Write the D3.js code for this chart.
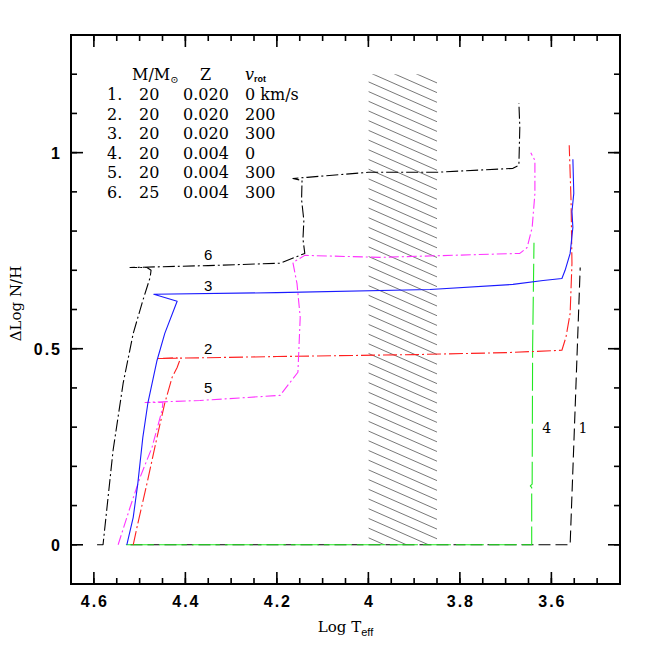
<!DOCTYPE html>
<html>
<head>
<meta charset="utf-8">
<script src="https://cdn.jsdelivr.net/npm/d3@7"></script>
<style>
  body { margin: 0; background: #fff; }
  text { fill: #000; }
</style>
</head>
<body>
<div id="container"></div>
<script>
// evolutionary tracks, [Log Teff, dLog N/H]
var track1 = [[4.52,0],[3.559,0],[3.548,0.35],[3.537,0.707]];
var track2 = [[4.514,0],[4.504,0.054],[4.484,0.156],[4.462,0.274],[4.445,0.361],[4.429,0.427],
              [4.418,0.452],[4.413,0.468],[4.418,0.477],[4.462,0.475],[4.2,0.48],[3.9,0.485],
              [3.7,0.49],[3.577,0.496],[3.568,0.53],[3.559,0.59],[3.555,0.718],[3.557,0.878],[3.561,1.019]];
var track3 = [[4.528,0],[4.514,0.07],[4.504,0.156],[4.493,0.274],[4.482,0.361],[4.462,0.47],
              [4.445,0.539],[4.418,0.621],[4.469,0.639],[4.2,0.643],[3.865,0.651],[3.684,0.664],
              [3.618,0.674],[3.577,0.679],[3.570,0.7],[3.559,0.743],[3.553,0.809],[3.555,0.85],
              [3.551,0.896],[3.553,0.983]];
var track4 = [[4.53,0],[3.643,0],[3.643,0.146],[3.646,0.15],[3.642,0.155],[3.641,0.5],[3.638,0.77]];
var track5 = [[4.547,0],[4.521,0.095],[4.499,0.172],[4.473,0.248],[4.451,0.343],[4.449,0.363],
              [4.488,0.363],[4.368,0.368],[4.193,0.381],[4.154,0.44],[4.149,0.58],[4.156,0.666],
              [4.165,0.72],[4.139,0.738],[3.975,0.733],[3.669,0.743],[3.653,0.758],[3.642,0.809],
              [3.636,0.896],[3.636,0.98],[3.645,1.0]];
var track6 = [[4.593,0],[4.58,0],[4.558,0.241],[4.536,0.412],[4.514,0.539],[4.493,0.623],
              [4.477,0.682],[4.475,0.7],[4.484,0.707],[4.521,0.707],[4.35,0.712],[4.193,0.718],
              [4.139,0.743],[4.143,0.78],[4.141,0.827],[4.146,0.88],[4.145,0.929],[4.165,0.934],
              [4.134,0.937],[4.0,0.95],[3.85,0.95],[3.684,0.96],[3.671,0.968],[3.669,1.065],
              [3.671,1.126]];

var trackNames = ["1","2","3","4","5","6"];
var trackColors = ["#000000","#ff2020","#1a1aff","#22e822","#ff33ff","#000000"];
var trackDashes = ["12,5","14,3,2,3","none","28,5","10,3,2,3","12,3,2,3"];
// label anchor for each track [Log Teff, dLog N/H]
var trackLabels = [[3.531,0.297],[4.35,0.498],[4.35,0.661],[3.61,0.297],[4.35,0.401],[4.35,0.738]];

// legend
var legendHead = ["M/M", "Z", "v"];
var legendRows = [
  ["1.","20","0.020","0 km/s"],
  ["2.","20","0.020","200"],
  ["3.","20","0.020","300"],
  ["4.","20","0.004","0"],
  ["5.","20","0.004","300"],
  ["6.","25","0.004","300"]
];

// hatched band
var bandX = [4.0, 3.85];
var bandY = [0, 1.2];

var xMajor = [4.6, 4.4, 4.2, 4.0, 3.8, 3.6];
var xTickLabels = ["4.6","4.4","4.2","4","3.8","3.6"];
var yMajor = [0, 0.5, 1];
var yTickLabels = ["0","0.5","1"];

var margin = {top: 35, right: 34, bottom: 70, left: 71},
    width = 654 - margin.left - margin.right,
    height = 654 - margin.top - margin.bottom;

function drawChart() {

    var svg = d3.select("#container")
    .append("svg")
      .attr("width", width + margin.left + margin.right)
      .attr("height", height + margin.top + margin.bottom)
    .append("g")
      .attr("transform", "translate(" + margin.left + "," + margin.top + ")");

    var x = d3.scaleLinear()
        .domain([4.65, 3.45])
        .range([0, width]);

    var y = d3.scaleLinear()
        .domain([-0.1, 1.3])
        .range([height, 0]);

    var xMinor = x.ticks(24);
    var yMinor = y.ticks(14);

    // hatching
    svg.append("clipPath").attr("id", "band")
      .append("rect")
        .attr("x", x(bandX[0]))
        .attr("y", y(bandY[1]))
        .attr("width", x(bandX[1]) - x(bandX[0]))
        .attr("height", y(bandY[0]) - y(bandY[1]));

    var bx0 = x(bandX[0]), bx1 = x(bandX[1]),
        by0 = y(bandY[1]), by1 = y(bandY[0]);
    var slope = 0.44, step = 9.7;
    var hatch = [];
    for (var c = by0 - (bx1 - bx0) * slope - 1; c < by1; c += step) hatch.push(c);

    svg.append("g")
        .attr("clip-path", "url(#band)")
      .selectAll("line")
        .data(hatch)
        .enter()
        .append("line")
        .attr("x1", bx0).attr("y1", function(d) { return d; })
        .attr("x2", bx1).attr("y2", function(d) { return d + (bx1 - bx0) * slope; })
        .attr("stroke", "#555")
        .attr("stroke-width", 0.8);

    // tracks
    var line = d3.line()
        .x(function(d) { return x(d[0]); })
        .y(function(d) { return y(d[1]); });

    var tracks = [track1, track2, track3, track4, track5, track6];
    var order = [0, 3, 1, 4, 2, 5];

    svg.selectAll(".track")
        .data(order)
        .enter()
        .append("path")
        .attr("class", "track")
        .attr("d", function(i) { return line(tracks[i]); })
        .attr("fill", "none")
        .attr("stroke", function(i) { return trackColors[i]; })
        .attr("stroke-width", 1.1)
        .attr("stroke-dasharray", function(i) { return trackDashes[i]; })
        .attr("stroke-linejoin", "round");

    svg.selectAll(".tlabel")
        .data(trackLabels)
        .enter()
        .append("text")
        .attr("class", "tlabel")
        .attr("x", function(d) { return x(d[0]); })
        .attr("y", function(d) { return y(d[1]) + 5; })
        .attr("text-anchor", "middle")
        .style("font-family", function(d, i) { return (i == 0 || i == 3) ? "DejaVu Serif" : "Liberation Sans"; })
        .style("font-size", function(d, i) { return (i == 0 || i == 3) ? "14px" : "15px"; })
        .text(function(d, i) { return trackNames[i]; });

    // frame and ticks
    svg.append("rect")
        .attr("width", width).attr("height", height)
        .attr("fill", "none").attr("stroke", "#000").attr("stroke-width", 2);

    function tickLines(cls, vals, len, horiz, pos, dir) {
        svg.selectAll("." + cls)
            .data(vals)
            .enter()
            .append("line")
            .attr("class", cls)
            .attr("x1", function(d) { return horiz ? x(d) : pos; })
            .attr("x2", function(d) { return horiz ? x(d) : pos + dir * len; })
            .attr("y1", function(d) { return horiz ? pos : y(d); })
            .attr("y2", function(d) { return horiz ? pos + dir * len : y(d); })
            .attr("stroke", "#000")
            .attr("stroke-width", 1.6);
    }
    var xMin = xMinor.filter(function(v) { return v > 3.451 && v < 4.649; });
    var yMin = yMinor.filter(function(v) { return v > -0.099 && v < 1.299; });
    tickLines("xb", xMin, 6, true, height, -1);
    tickLines("xt", xMin, 6, true, 0, 1);
    tickLines("xbM", xMajor, 12, true, height, -1);
    tickLines("xtM", xMajor, 12, true, 0, 1);
    tickLines("yl", yMin, 6, false, 0, 1);
    tickLines("yr", yMin, 6, false, width, -1);
    tickLines("ylM", yMajor, 12, false, 0, 1);
    tickLines("yrM", yMajor, 12, false, width, -1);

    svg.selectAll(".xlab")
        .data(xMajor)
        .enter()
        .append("text")
        .attr("class", "xlab")
        .attr("x", function(d) { return x(d) + 1; })
        .attr("y", height + 23)
        .attr("text-anchor", "middle")
        .style("font-family", "Liberation Sans")
        .style("font-size", "16px")
        .style("font-weight", "bold")
        .style("letter-spacing", "2px")
        .text(function(d, i) { return xTickLabels[i]; });

    svg.selectAll(".ylab")
        .data(yMajor)
        .enter()
        .append("text")
        .attr("class", "ylab")
        .attr("x", -9)
        .attr("y", function(d) { return y(d) + 6; })
        .attr("text-anchor", "end")
        .style("font-family", "Liberation Sans")
        .style("font-size", "16px")
        .style("font-weight", "bold")
        .style("letter-spacing", "2px")
        .text(function(d, i) { return yTickLabels[i]; });

    // axis titles
    var xt = svg.append("text")
        .attr("x", width / 2)
        .attr("y", height + 48)
        .attr("text-anchor", "middle")
        .style("font-family", "DejaVu Serif")
        .style("font-size", "15px");
    xt.append("tspan").text("Log T");
    xt.append("tspan").attr("dy", 4)
        .style("font-family", "Liberation Sans").style("font-size", "11px").text("eff");

    svg.append("text")
        .attr("transform", "translate(-50," + (height / 2 - 6) + ") rotate(-90)")
        .attr("text-anchor", "middle")
        .style("font-family", "DejaVu Serif")
        .style("font-size", "15px")
        .text("\u0394Log N/H");

    // legend
    var leg = svg.append("g")
        .attr("transform", "translate(" + (-margin.left) + "," + (-margin.top) + ")")
        .style("font-family", "DejaVu Serif")
        .style("font-size", "16px");

    var h1 = leg.append("text").attr("x", 132).attr("y", 80);
    h1.append("tspan").text(legendHead[0]);
    h1.append("tspan").attr("dy", 3).style("font-size", "10px").text("\u2299");
    leg.append("text").attr("x", 200).attr("y", 80).text(legendHead[1]);
    var h3 = leg.append("text").attr("x", 245).attr("y", 80);
    h3.append("tspan").style("font-style", "italic").text(legendHead[2]);
    h3.append("tspan").attr("dy", 2)
        .style("font-family", "Liberation Sans").style("font-size", "9px").style("font-weight", "bold")
        .text("rot");

    var colX = [107, 139, 183, 245];
    legendRows.forEach(function(row, r) {
        row.forEach(function(cell, c) {
            leg.append("text")
                .attr("x", colX[c])
                .attr("y", 100 + r * 19.6)
                .attr("xml:space", "preserve")
                .text(cell);
        });
    });
}

drawChart();
</script>
</body>
</html>
